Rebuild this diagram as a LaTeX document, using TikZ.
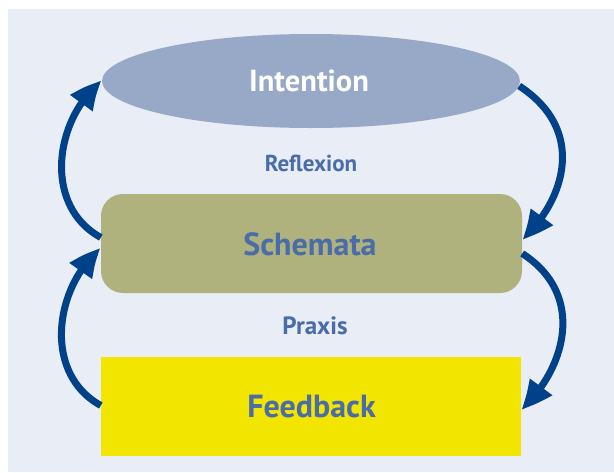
\documentclass[tikz,border=0pt]{standalone}
\usepackage{fontspec}
\setmainfont{PT Sans}
\usetikzlibrary{arrows.meta,bending,shapes.geometric,calc}
\definecolor{bgc}{HTML}{E9EDF5}
\definecolor{ellc}{HTML}{98A9C7}
\definecolor{schc}{HTML}{AFB27C}
\definecolor{fbc}{HTML}{F2E500}
\definecolor{arrc}{HTML}{00428A}
\definecolor{txtc}{HTML}{4A6CA8}
\tikzset{
  bigtext/.style={font=\fontsize{32}{32}\selectfont\bfseries, text=txtc},
  smalltext/.style={font=\fontsize{23}{23}\selectfont\bfseries, text=txtc},
  flow/.style={arrc, line width=7pt, -{Triangle[length=30pt,width=26pt,bend]}},
}
\begin{document}
\begin{tikzpicture}[x=1pt,y=-1pt]
\useasboundingbox (0,0) rectangle (614,472);
\fill[bgc] (7.5,9) rectangle (614,472);
\node[ellipse, fill=ellc, minimum width=418pt, minimum height=94pt, inner sep=0pt] (int) at (311,81) {};
\node[font=\fontsize{30.5}{30}\selectfont\bfseries, text=white] (intl) at (309,81) {Intention};
\node[rectangle, rounded corners=22pt, fill=schc, minimum width=421pt, minimum height=99pt, inner sep=0pt] (sch) at (311.5,243.5) {};
\node[bigtext] (schl) at (310,244) {Schemata};
\node[rectangle, fill=fbc, minimum width=420pt, minimum height=99pt, inner sep=0pt] (fb) at (311,406.5) {};
\node[bigtext] (fbl) at (311.5,407) {Feedback};
\node[smalltext] (refl) at (311,163) {Reflexion};
\node[smalltext, font=\fontsize{25}{25}\selectfont\bfseries] (prax) at (315,326) {Praxis};
% arrows
\draw[flow] ($(sch.west)+(0,-6)$) .. controls (42,205) and (55,118) .. (int.west);
\draw[flow] ($(int.east)+(-1,5)$) .. controls (587,130) and (565,200) .. ($(sch.east)+(0,-4)$);
\draw[flow] ($(sch.east)+(0,10)$) .. controls (587,295) and (565,370) .. ($(fb.east)+(0,3)$);
\draw[flow] ($(fb.west)+(0,-1)$) .. controls (42,373) and (55,286) .. ($(sch.west)+(0,5)$);
\end{tikzpicture}
\end{document}
